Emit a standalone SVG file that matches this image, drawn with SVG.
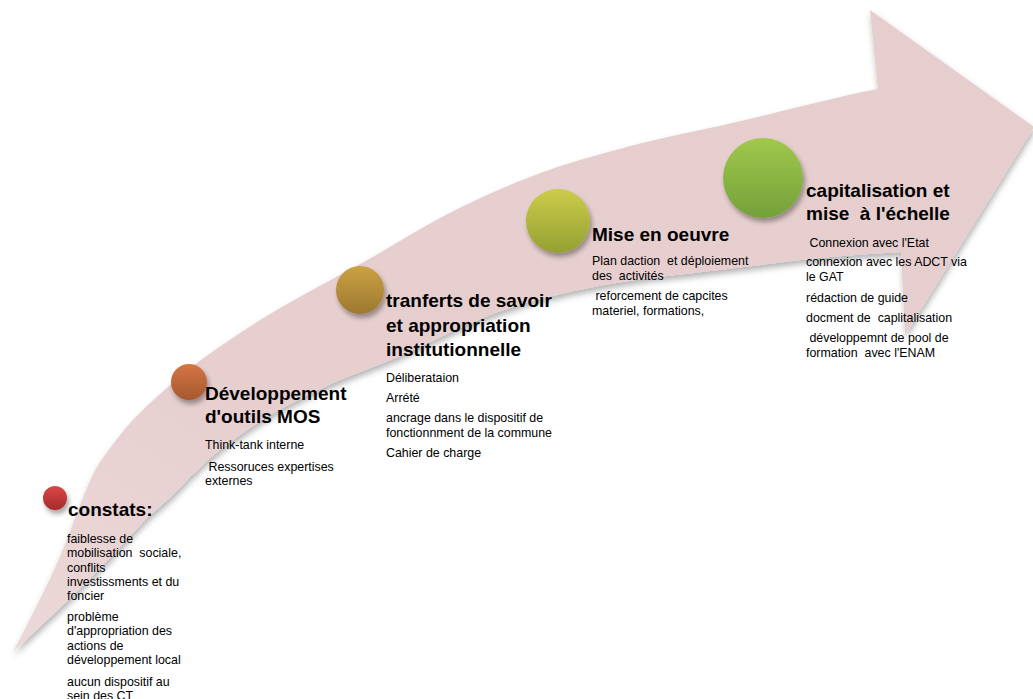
<svg xmlns="http://www.w3.org/2000/svg" width="1033" height="699" viewBox="0 0 1033 699">
  <style>
    text { font-family: "Liberation Sans", Arial, sans-serif; fill: #000; white-space: pre; }
    .h { font-size: 19px; font-weight: bold; }
    .b { font-size: 12.4px; }
  </style>
  <defs>
    <linearGradient id="arrowFill" x1="0" y1="1" x2="1" y2="0">
      <stop offset="0" stop-color="#ecd8d8"/>
      <stop offset="0.3" stop-color="#e7cfd0"/>
      <stop offset="1" stop-color="#e6cdce"/>
    </linearGradient>
    <filter id="arrowShadow" x="-5%" y="-5%" width="110%" height="115%">
      <feDropShadow dx="1" dy="4" stdDeviation="3" flood-color="#000" flood-opacity="0.3"/>
    </filter>
    <filter id="ballShadow" x="-40%" y="-40%" width="190%" height="190%">
      <feDropShadow dx="2" dy="4" stdDeviation="2.5" flood-color="#000" flood-opacity="0.35"/>
    </filter>
    <linearGradient id="gRed" x1="0" y1="0" x2="0" y2="1">
      <stop offset="0" stop-color="#d84848"/>
      <stop offset="1" stop-color="#a82a2a"/>
    </linearGradient>
    <linearGradient id="gOrange" x1="0" y1="0" x2="0" y2="1">
      <stop offset="0" stop-color="#d47646"/>
      <stop offset="1" stop-color="#a6582e"/>
    </linearGradient>
    <linearGradient id="gGold" x1="0" y1="0" x2="0" y2="1">
      <stop offset="0" stop-color="#cca244"/>
      <stop offset="1" stop-color="#9c7830"/>
    </linearGradient>
    <linearGradient id="gOlive" x1="0" y1="0" x2="0" y2="1">
      <stop offset="0" stop-color="#cccc4a"/>
      <stop offset="1" stop-color="#94a032"/>
    </linearGradient>
    <linearGradient id="gGreen" x1="0" y1="0" x2="0" y2="1">
      <stop offset="0" stop-color="#a0c84c"/>
      <stop offset="1" stop-color="#74a03a"/>
    </linearGradient>
  </defs>

  <!-- rising curved arrow -->
  <g id="connectors">
    <path id="big-arrow" filter="url(#arrowShadow)" fill="url(#arrowFill)"
      d="M13,652
         C30,620 50,580 62,552
         C75,520 88,480 100,462
         C112,445 122,432 133,420
         C148,404 165,390 180,376
         C205,356 232,338 260,320
         C293,300 327,282 360,264
         C397,244 432,220 470,203
         C505,186 542,171 580,160
         C620,148 660,138 700,130
         C760,118 820,100 878,89
         L870,10 L1034,127 L905,335 L901,252
         C870,254 835,256 800,260
         C770,264 740,267 710,271
         C677,275 643,278 610,284
         C577,290 543,297 510,308
         C472,320 436,340 400,356
         C378,366 355,373 333,383
         C311,393 289,404 267,417
         C248,429 228,443 210,458
         C203,464 197,471 190,477
         C177,491 163,505 150,515
         C137,528 123,544 110,558
         C93,575 77,592 60,608
         C45,622 28,638 13,652 Z"/>
  </g>

  <g id="node-constats">
    <circle cx="55" cy="498" r="12" fill="url(#gRed)" filter="url(#ballShadow)"/>
    <text class="h" x="68" y="516">constats:</text>
    <text class="b" x="67" y="543">faiblesse de</text>
    <text class="b" x="67" y="557">mobilisation  sociale,</text>
    <text class="b" x="67" y="572">conflits</text>
    <text class="b" x="67" y="586">investissments et du</text>
    <text class="b" x="67" y="600">foncier</text>
    <text class="b" x="67" y="621">problème</text>
    <text class="b" x="67" y="635">d'appropriation des</text>
    <text class="b" x="67" y="650">actions de</text>
    <text class="b" x="67" y="664">développement local</text>
    <text class="b" x="67" y="686">aucun dispositif au</text>
    <text class="b" x="67" y="700">sein des CT</text>
  </g>

  <g id="node-outils">
    <circle cx="189" cy="382" r="18" fill="url(#gOrange)" filter="url(#ballShadow)"/>
    <text class="h" x="205" y="400">Développement</text>
    <text class="h" x="205" y="423">d'outils MOS</text>
    <text class="b" x="205" y="449">Think-tank interne</text>
    <text class="b" x="205" y="471"> Ressoruces expertises</text>
    <text class="b" x="205" y="485">externes</text>
  </g>

  <g id="node-transfert">
    <circle cx="360" cy="290" r="24" fill="url(#gGold)" filter="url(#ballShadow)"/>
    <text class="h" x="386" y="307">tranferts de savoir</text>
    <text class="h" x="386" y="332">et appropriation</text>
    <text class="h" x="386" y="356">institutionnelle</text>
    <text class="b" x="386" y="382">Déliberataion</text>
    <text class="b" x="386" y="402">Arrété</text>
    <text class="b" x="386" y="422">ancrage dans le dispositif de</text>
    <text class="b" x="386" y="437">fonctionnment de la commune</text>
    <text class="b" x="386" y="457">Cahier de charge</text>
  </g>

  <g id="node-mise-en-oeuvre">
    <circle cx="558" cy="221" r="32" fill="url(#gOlive)" filter="url(#ballShadow)"/>
    <text class="h" x="592" y="241">Mise en oeuvre</text>
    <text class="b" x="592" y="265">Plan daction  et déploiement</text>
    <text class="b" x="592" y="280">des  activités</text>
    <text class="b" x="592" y="300"> reforcement de capcites</text>
    <text class="b" x="592" y="315">materiel, formations,</text>
  </g>

  <g id="node-capitalisation">
    <circle cx="763" cy="178" r="40" fill="url(#gGreen)" filter="url(#ballShadow)"/>
    <text class="h" x="806" y="197">capitalisation et</text>
    <text class="h" x="806" y="220">mise  à l'échelle</text>
    <text class="b" x="806" y="247"> Connexion avec l'Etat</text>
    <text class="b" x="806" y="266">connexion avec les ADCT via</text>
    <text class="b" x="806" y="281">le GAT</text>
    <text class="b" x="806" y="302">rédaction de guide</text>
    <text class="b" x="806" y="322">docment de  caplitalisation</text>
    <text class="b" x="806" y="342"> développemnt de pool de</text>
    <text class="b" x="806" y="357">formation  avec l'ENAM</text>
  </g>
</svg>
